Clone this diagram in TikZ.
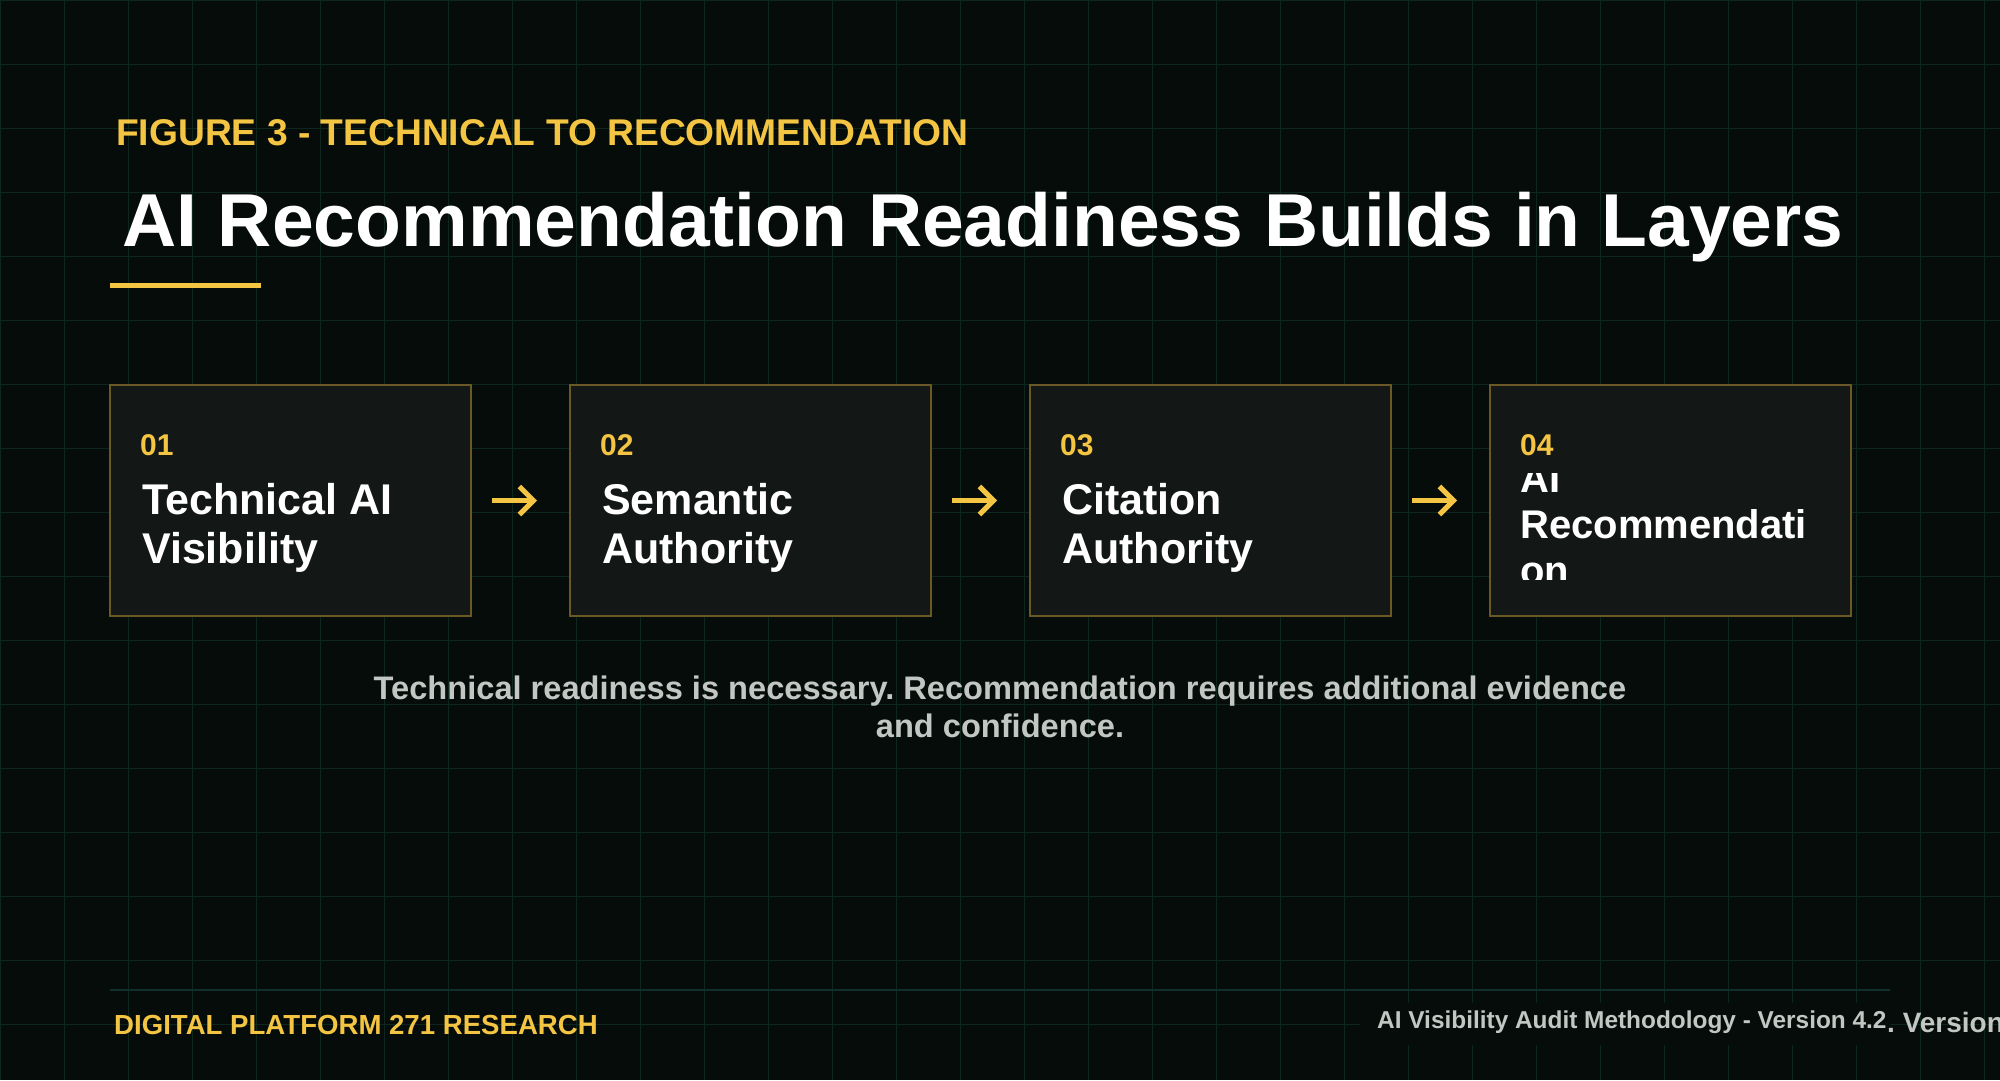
\documentclass[tikz,border=0pt]{standalone}
\usepackage{fontspec}
\setmainfont{Liberation Sans}
\usetikzlibrary{arrows.meta,positioning}
\frenchspacing

\definecolor{canvasbg}{HTML}{060C0A}
\definecolor{gridgreen}{HTML}{0D261E}
\definecolor{footline}{HTML}{12302A}
\definecolor{boxfill}{HTML}{131816}
\definecolor{boxedge}{HTML}{6A5826}
\definecolor{accent}{HTML}{F4C542}
\definecolor{capgray}{HTML}{C3C7C3}

\tikzset{
  gridline/.style={draw=gridgreen, line width=1pt},
  stepbox/.style={draw=boxedge, fill=boxfill, line width=2pt, outer sep=0pt,
                  minimum width=361pt, minimum height=231pt, inner sep=0pt},
  stepnum/.style={text=accent, inner sep=0pt, anchor=base west,
                  font=\bfseries\fontsize{30}{36}\selectfont},
  steptitle/.style={text=white, inner sep=0pt, anchor=base west, align=left,
                  font=\bfseries\fontsize{43}{49}\selectfont},
  stepflow/.style={draw=accent, line width=5pt, -{Straight Barb[length=14pt,width=28pt]}},
}

\begin{document}
\begin{tikzpicture}[x=1pt, y=-1pt]
        \useasboundingbox (0,0) rectangle (2000,1080);
        \clip (0,0) rectangle (2000,1080);
        \fill [canvasbg] (0,0) rectangle (2000,1080);                  % canvas
        \foreach \gx in {0,64,...,1984} \draw [gridline] (\gx,0) -- (\gx,1080);
        \foreach \gy in {0,64,...,1024} \draw [gridline] (0,\gy) -- (2000,\gy);

        % heading
        \node [anchor=base west, inner sep=0pt, text=accent, font=\bfseries\fontsize{37.2}{44}\selectfont]
              (kicker) at (116,145) {FIGURE 3 - TECHNICAL TO RECOMMENDATION};
        \node [anchor=base west, inner sep=0pt, text=white, font=\bfseries\fontsize{75}{90}\selectfont]
              (headline) at (122,246) {AI Recommendation Readiness Builds in Layers};
        \fill [accent] (110,283) rectangle (261,288);                  % rule

        % layers
        \node [stepbox, anchor=north west] (s1) at (110,385) {};
        \node [stepbox, right=99pt of s1]  (s2) {};
        \node [stepbox, right=99pt of s2]  (s3) {};
        \node [stepbox, right=99pt of s3]  (s4) {};

        \node [stepnum]   (n1) at ([shift={(30,70)}]s1.north west)  {01};
        \node [steptitle] (t1) at ([shift={(32,178)}]s1.north west) {Technical AI\\Visibility};
        \node [stepnum]   (n2) at ([shift={(30,70)}]s2.north west)  {02};
        \node [steptitle] (t2) at ([shift={(32,178)}]s2.north west) {Semantic\\Authority};
        \node [stepnum]   (n3) at ([shift={(30,70)}]s3.north west)  {03};
        \node [steptitle] (t3) at ([shift={(32,178)}]s3.north west) {Citation\\Authority};
        \node [stepnum]   (n4) at ([shift={(30,70)}]s4.north west)  {04};
        \begin{scope}
          \clip ([yshift=-88]s4.north west) rectangle ([yshift=37]s4.south east);
          \node [steptitle, font=\bfseries\fontsize{40}{46}\selectfont]
                (t4) at ([shift={(30,199)}]s4.north west) {AI\\Recommendati\\on};
        \end{scope}

        \draw [stepflow] ([xshift=21]s1.east) -- ([xshift=-33]s2.west);
        \draw [stepflow] ([xshift=21]s2.east) -- ([xshift=-33]s3.west);
        \draw [stepflow] ([xshift=21]s3.east) -- ([xshift=-33]s4.west);

        % caption
        \node [anchor=base, align=center, inner sep=0pt, text=capgray, font=\bfseries\fontsize{32.6}{38}\selectfont]
              (note) at (1000,737) {Technical readiness is necessary. Recommendation requires additional evidence\\and confidence.};

        % footer
        \draw [footline, line width=1.5pt] (110,990) -- (1890,990);
        \node [anchor=base west, inner sep=0pt, text=accent, font=\bfseries\fontsize{27.6}{32}\selectfont]
              (brand) at (114,1034) {DIGITAL PLATFORM 271 RESEARCH};
        \fill [canvasbg] (1360,1003) rectangle (1890,1045);            % patch
        \node [anchor=base west, inner sep=0pt, text=capgray, font=\bfseries\fontsize{24.4}{29}\selectfont]
              (meta) at (1377,1028) {AI Visibility Audit Methodology - Version 4.2};
        \node [anchor=base west, inner sep=0pt, text=capgray, font=\bfseries\fontsize{28}{33}\selectfont]
              (spill) at (1887,1032) {. Version};
\end{tikzpicture}
\end{document}
